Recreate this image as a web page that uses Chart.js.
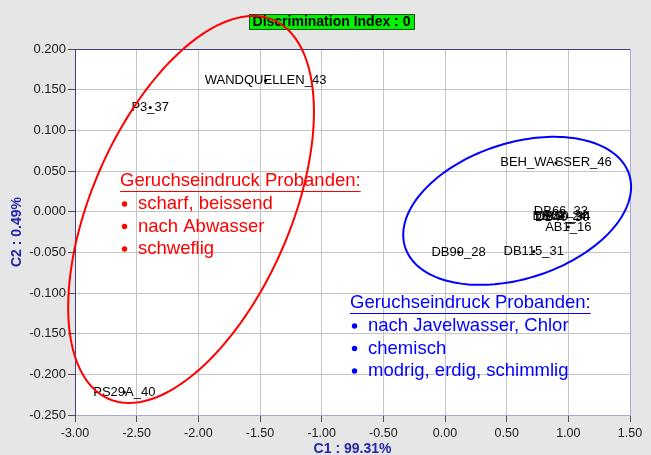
<!DOCTYPE html>
<html>
<head>
<meta charset="utf-8">
<script src="https://cdn.jsdelivr.net/npm/chart.js@4.4.0/dist/chart.umd.min.js"></script>
<style>
  html, body { margin: 0; padding: 0; background: #e6e6e6; }
  canvas { display: block; }
</style>
</head>
<body>
<canvas id="chart" width="651" height="455"></canvas>
<script>
// Sample scores on the two discriminant components
const sampleNames = ["WANDQUELLEN_43", "P3_37", "PS29A_40", "BEH_WASSER_46", "DB115_31", "DB99_28",
                     "DB66_33", "DB62_24", "DB50_34", "DB40_30", "AB1_16"];
const c1Values = [-1.455, -2.39, -2.60, 0.90, 0.72, 0.11, 0.94, 0.93, 0.96, 0.95, 1.00];
const c2Values = [0.161, 0.128, -0.222, 0.060, -0.049, -0.050, 0.000, -0.006, -0.006, -0.007, -0.019];

const xTicks = { min: -3, max: 1.5, step: 0.5 };
const yTicks = { min: -0.25, max: 0.2, step: 0.05 };

// Ellipses: centre and two conjugate semi-axes, in data units
const ellipseColors = ["#ff0000", "#0000ff"];
const ellipseCenters = [[-2.059, 0.0027], [0.585, 0.001]];
const ellipseMajor = [[0.503, 0.2379], [0.908, 0.0448]];
const ellipseMinor = [[0.860, 0.0], [0.1697, -0.0792]];

// Text blocks next to the groups
const noteColors = ["#ff0000", "#0000ff"];
const noteAnchors = [[-2.635, 0.0377], [-0.770, -0.1123]];
const noteTitles = ["Geruchseindruck Probanden:", "Geruchseindruck Probanden:"];
const noteLines = [
    ["scharf, beissend", "nach Abwasser", "schweflig"],
    ["nach Javelwasser, Chlor", "chemisch", "modrig, erdig, schimmlig"]
];

const FONT = "'Liberation Sans', Arial, sans-serif";

const points = c1Values.map((x, i) => ({ x: x, y: c2Values[i] }));

function drawEllipses(ctx, scales) {
    ellipseCenters.forEach((c, k) => {
        ctx.strokeStyle = ellipseColors[k];
        ctx.lineWidth = 2;
        ctx.beginPath();
        for (let s = 0; s <= 180; s++) {
            const t = s / 180 * Math.PI * 2;
            const dx = c[0] + ellipseMajor[k][0] * Math.cos(t) + ellipseMinor[k][0] * Math.sin(t);
            const dy = c[1] + ellipseMajor[k][1] * Math.cos(t) + ellipseMinor[k][1] * Math.sin(t);
            const px = scales.x.getPixelForValue(dx);
            const py = scales.y.getPixelForValue(dy);
            if (s === 0) ctx.moveTo(px, py); else ctx.lineTo(px, py);
        }
        ctx.closePath();
        ctx.stroke();
    });
}

const frameAndTitle = {
    id: 'frameAndTitle',
    beforeDraw(chart) {
        const { ctx, chartArea } = chart;
        ctx.save();
        ctx.fillStyle = '#e6e6e6';
        ctx.fillRect(0, 0, chart.width, chart.height);
        ctx.fillStyle = '#ffffff';
        ctx.fillRect(chartArea.left, chartArea.top, chartArea.right - chartArea.left, chartArea.bottom - chartArea.top);
        ctx.restore();
    },
    afterDraw(chart) {
        const { ctx, chartArea, scales } = chart;
        ctx.save();
        // top and right edges of the plot frame
        ctx.lineWidth = 1;
        ctx.strokeStyle = '#404080';
        ctx.beginPath();
        ctx.moveTo(chartArea.left, chartArea.top + 0.5);
        ctx.lineTo(chartArea.right, chartArea.top + 0.5);
        ctx.stroke();
        ctx.strokeStyle = '#a8a8e0';
        ctx.beginPath();
        ctx.moveTo(chartArea.right + 0.5, chartArea.top);
        ctx.lineTo(chartArea.right + 0.5, chartArea.bottom);
        ctx.stroke();

        // point labels, centred on each point
        ctx.font = '13px ' + FONT;
        ctx.fillStyle = '#000';
        ctx.textAlign = 'center';
        ctx.textBaseline = 'middle';
        sampleNames.forEach((name, i) => {
            ctx.fillText(name, scales.x.getPixelForValue(c1Values[i]), scales.y.getPixelForValue(c2Values[i]));
        });

        // title box
        const bx = 249, by = 14, bw = 165, bh = 15;
        ctx.fillStyle = '#00f000';
        ctx.fillRect(bx, by, bw, bh);
        ctx.strokeStyle = '#205020';
        ctx.strokeRect(bx + 0.5, by + 0.5, bw, bh);
        ctx.font = 'bold 14px ' + FONT;
        ctx.fillStyle = '#000';
        ctx.fillText('Discrimination Index : 0', bx + bw / 2, by + bh / 2 + 1);

        drawEllipses(ctx, scales);

        // notes
        ctx.textAlign = 'left';
        ctx.font = '18.5px ' + FONT;
        noteTitles.forEach((title, i) => {
            const x0 = scales.x.getPixelForValue(noteAnchors[i][0]);
            const y0 = scales.y.getPixelForValue(noteAnchors[i][1]);
            ctx.fillStyle = noteColors[i];
            ctx.strokeStyle = noteColors[i];
            ctx.fillText(title, x0, y0);
            const w = ctx.measureText(title).width;
            ctx.lineWidth = 1;
            ctx.beginPath();
            ctx.moveTo(x0, Math.round(y0 + 10) + 0.5);
            ctx.lineTo(x0 + w, Math.round(y0 + 10) + 0.5);
            ctx.stroke();
            noteLines[i].forEach((line, j) => {
                const ly = y0 + 22.5 * (j + 1) + 0.5;
                ctx.beginPath();
                ctx.arc(x0 + 4.5, ly, 2.7, 0, Math.PI * 2);
                ctx.fill();
                ctx.fillText(line, x0 + 18, ly);
            });
        });
        ctx.restore();
    }
};

new Chart(document.getElementById('chart'), {
    type: 'scatter',
    data: {
        datasets: [{
            data: points,
            pointRadius: 1.5,
            pointHoverRadius: 1.5,
            backgroundColor: '#000',
            borderColor: '#000',
            borderWidth: 0
        }]
    },
    options: {
        responsive: false,
        animation: false,
        events: [],
        layout: { padding: { left: 0, top: 49, right: 21, bottom: 0 } },
        plugins: { legend: { display: false }, tooltip: { enabled: false } },
        scales: {
            x: {
                type: 'linear',
                min: xTicks.min,
                max: xTicks.max,
                ticks: {
                    stepSize: xTicks.step,
                    callback: v => v.toFixed(2),
                    color: '#202020',
                    font: { family: FONT, size: 12.5 },
                    padding: 4,
                    maxRotation: 0
                },
                grid: { color: '#c4c4c4', tickColor: '#505050', tickLength: 7 },
                border: { color: '#a8a8e0', width: 1 },
                title: {
                    display: true,
                    text: 'C1 : 99.31%',
                    color: '#2424a8',
                    font: { family: FONT, size: 14, weight: 'bold' },
                    padding: { top: 0, bottom: -3 }
                },
                afterFit: s => { s.height = 40; }
            },
            y: {
                type: 'linear',
                min: yTicks.min,
                max: yTicks.max,
                ticks: {
                    stepSize: yTicks.step,
                    callback: v => v.toFixed(3),
                    color: '#202020',
                    font: { family: FONT, size: 13 },
                    padding: 2
                },
                grid: { color: '#c4c4c4', tickColor: '#505050', tickLength: 7 },
                border: { color: '#404080', width: 1 },
                title: {
                    display: true,
                    text: 'C2 : 0.49%',
                    color: '#2424a8',
                    font: { family: FONT, size: 14, weight: 'bold' },
                    padding: { top: 9, bottom: 0 }
                },
                afterFit: s => { s.width = 75; }
            }
        }
    },
    plugins: [frameAndTitle]
});
</script>
</body>
</html>
